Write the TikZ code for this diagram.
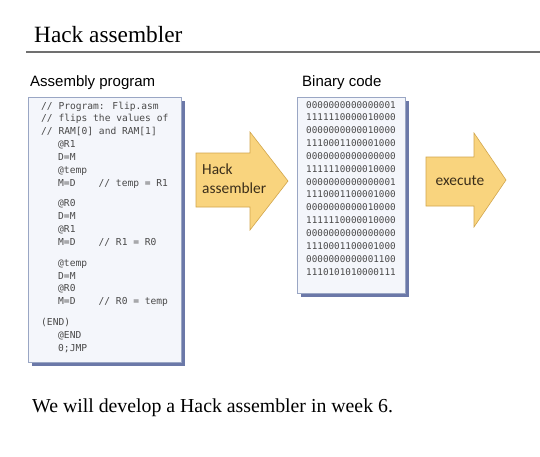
\documentclass[tikz,border=0pt]{standalone}
\usepackage{fontspec}
\setmainfont{Liberation Serif}
\setsansfont{Liberation Sans}
\newfontfamily\codefont{DejaVu Sans Mono}
\newfontfamily\calfont{Carlito}
\definecolor{codegray}{HTML}{4A4A4A}
\definecolor{boxfill}{HTML}{F4F6FB}
\definecolor{boxline}{HTML}{9AA6C4}
\definecolor{shadowc}{HTML}{6B78A8}
\definecolor{arrowfill}{HTML}{F9D47E}
\definecolor{arrowline}{HTML}{D2A64C}
\definecolor{arrowtxt}{HTML}{3B2E1A}
\definecolor{rulegray}{HTML}{707070}
\tikzset{
  titletext/.style={font=\fontsize{23.3}{26}\selectfont, anchor=base west, inner sep=0},
  bodytext/.style={font=\fontsize{19.8}{22}\selectfont, anchor=base west, inner sep=0},
  labeltext/.style={font=\sffamily\fontsize{15}{18}\selectfont, anchor=base west, inner sep=0},
  codeline/.style={font=\codefont\fontsize{9.6}{12}\selectfont, text=codegray, anchor=base west, inner sep=0},
  binline/.style={font=\codefont\fontsize{9.3}{12}\selectfont, text=codegray, anchor=base, inner sep=0},
  arrowlabel/.style={font=\calfont\fontsize{15.4}{19}\selectfont, text=arrowtxt, inner sep=0},
  docbox/.style={draw=boxline, line width=0.6pt, fill=boxfill},
  docshadow/.style={fill=shadowc},
  bigarrow/.style={draw=arrowline, line width=0.6pt, fill=arrowfill, line join=miter},
}
\begin{document}
\begin{tikzpicture}[x=1pt,y=-1pt]
\useasboundingbox (0,0) rectangle (540,456);
\fill[white] (0,0) rectangle (540,456);

% title
\node[titletext] (title) at (34,42) {Hack assembler};
\coordinate (ruleL) at (26,52);
\coordinate (ruleR) at (540,52);
\draw[rulegray, line width=1.6pt] (ruleL) -- (ruleR);

% labels
\node[labeltext] (asmlabel) at (30,86) {Assembly program};
\node[labeltext] (binlabel) at (302,86) {Binary code};

% assembly box
\fill[docshadow] (32,101) rectangle (185,366);
\draw[docbox] (28,97) rectangle (181,362);

\node[codeline] (c1) at (41,109) {// Program: Flip.asm};
\node[codeline] (c2) at (41,121.9) {// flips the values of};
\node[codeline] (c3) at (41,134.8) {// RAM[0] and RAM[1]};
\node[codeline] (c4) at (58,147.7) {@R1};
\node[codeline] (c5) at (58,160.6) {D=M};
\node[codeline] (c6) at (58,173.5) {@temp};
\node[codeline] (c7) at (58,186.4) {M=D~~~~// temp = R1};
\node[codeline] (c8) at (58,206.9) {@R0};
\node[codeline] (c9) at (58,219.8) {D=M};
\node[codeline] (c10) at (58,232.7) {@R1};
\node[codeline] (c11) at (58,245.6) {M=D~~~~// R1 = R0};
\node[codeline] (c12) at (58,266.1) {@temp};
\node[codeline] (c13) at (58,279) {D=M};
\node[codeline] (c14) at (58,291.9) {@R0};
\node[codeline] (c15) at (58,304.8) {M=D~~~~// R0 = temp};
\node[codeline] (c16) at (41,325.3) {(END)};
\node[codeline] (c17) at (58,338.2) {@END};
\node[codeline] (c18) at (58,351.1) {0;JMP};

% hack assembler arrow
\draw[bigarrow] (196,153) -- (250,153) -- (250,132) -- (288,181) -- (250,230) -- (250,207) -- (196,207) -- cycle;
\node[arrowlabel, align=left, anchor=west] (hacklabel) at (202,179) {Hack\\assembler};

% binary box
\fill[docshadow] (301,101) rectangle (409,297);
\draw[docbox] (297,97) rectangle (405,293);

\node[binline] (b1) at (351,108) {0000000000000001};
\node[binline] (b2) at (351,120.85) {1111110000010000};
\node[binline] (b3) at (351,133.7) {0000000000010000};
\node[binline] (b4) at (351,146.55) {1110001100001000};
\node[binline] (b5) at (351,159.4) {0000000000000000};
\node[binline] (b6) at (351,172.25) {1111110000010000};
\node[binline] (b7) at (351,185.1) {0000000000000001};
\node[binline] (b8) at (351,197.95) {1110001100001000};
\node[binline] (b9) at (351,210.8) {0000000000010000};
\node[binline] (b10) at (351,223.65) {1111110000010000};
\node[binline] (b11) at (351,236.5) {0000000000000000};
\node[binline] (b12) at (351,249.35) {1110001100001000};
\node[binline] (b13) at (351,262.2) {0000000000001100};
\node[binline] (b14) at (351,275.05) {1110101010000111};

% execute arrow
\draw[bigarrow] (426,157) -- (474,157) -- (474,133) -- (506,180) -- (474,227) -- (474,206) -- (426,206) -- cycle;
\node[arrowlabel] (execlabel) at (460,181) {execute};

% bottom sentence
\node[bodytext] (note) at (32,412) {We will develop a Hack assembler in week 6.};
\end{tikzpicture}
\end{document}
